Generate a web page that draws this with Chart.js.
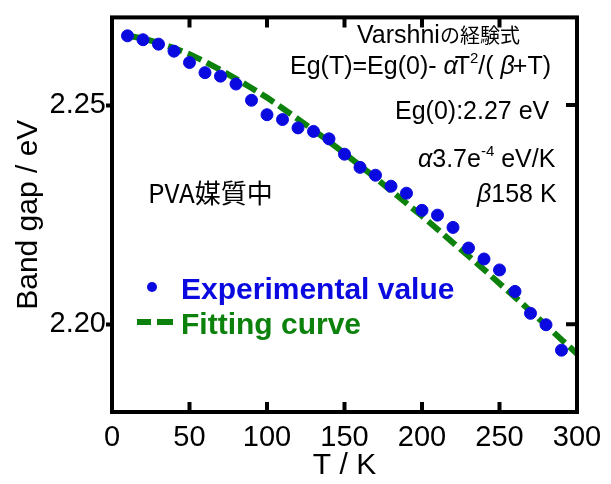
<!DOCTYPE html>
<html>
<head>
<meta charset="utf-8">
<script src="https://cdn.jsdelivr.net/npm/chart.js@4.4.1/dist/chart.umd.min.js"></script>
<style>
  body { margin: 0; background: #fff; }
  #wrap { width: 611px; height: 484px; }
</style>
</head>
<body>
<div id="wrap"><canvas id="chart"></canvas></div>
<script>
// measured points (K, eV)
var temps = [10, 20, 30, 40, 50, 60, 70, 80, 90, 100, 110, 120, 130, 140, 150, 160, 170, 180, 190, 200, 210, 220, 230, 240, 250, 260, 270, 280, 290];
var bandGap = [2.2658, 2.2649, 2.2639, 2.2623, 2.2597, 2.2574, 2.2566, 2.2548, 2.2511, 2.2478, 2.2467, 2.2448, 2.2440, 2.2423, 2.2388, 2.2358, 2.2340, 2.2315, 2.2299, 2.2260, 2.2249, 2.2221, 2.2174, 2.2149, 2.2124, 2.2075, 2.2025, 2.1999, 2.1941];
// fitting curve
var fitTemps = [10, 20, 30, 40, 50, 60, 70, 80, 90, 100, 110, 120, 130, 140, 150, 160, 170, 180, 190, 200, 210, 220, 230, 240, 250, 260, 270, 280, 290, 300];
var fitGap = [2.2658, 2.2652, 2.2642, 2.2630, 2.2616, 2.2599, 2.2580, 2.2560, 2.2539, 2.2517, 2.2493, 2.2468, 2.2443, 2.2417, 2.2390, 2.2362, 2.2334, 2.2305, 2.2276, 2.2247, 2.2217, 2.2186, 2.2156, 2.2125, 2.2093, 2.2062, 2.2030, 2.1998, 2.1965, 2.1933];
var yTicks = [2.20, 2.25];
var xTicks = [0, 50, 100, 150, 200, 250, 300];

var BLUE = '#0a0ae0';
var GREEN = '#0c820c';
var LATIN = "'Liberation Sans', Arial, sans-serif";
var CJK = "'Noto Sans CJK JP', sans-serif";

function pairs(xs, ys) {
	var out = [];
	for (var i = 0; i < xs.length; i++) out.push({ x: xs[i], y: ys[i] });
	return out;
}

// draw a run of text pieces one after another
function rich(ctx, x, y, parts) {
	ctx.textBaseline = 'alphabetic';
	ctx.textAlign = 'left';
	parts.forEach(function(p) {
		ctx.font = p.f;
		ctx.fillStyle = p.c || '#000';
		ctx.fillText(p.t, x + (p.dx || 0), y + (p.dy || 0));
		x += ctx.measureText(p.t).width + (p.dx || 0);
	});
}

var frame = {
	id: 'frame',
	afterDraw: function(chart) {
		var ctx = chart.ctx;
		var a = chart.chartArea;
		var xs = chart.scales.x, ys = chart.scales.y;
		ctx.save();
		ctx.strokeStyle = '#000';
		ctx.lineWidth = 4;
		ctx.strokeRect(a.left, a.top, a.right - a.left, a.bottom - a.top);
		// inward ticks: top, bottom, right
		ctx.beginPath();
		xTicks.slice(1, -1).forEach(function(v) {
			var px = xs.getPixelForValue(v);
			ctx.moveTo(px, a.bottom); ctx.lineTo(px, a.bottom - 10);
			ctx.moveTo(px, a.top); ctx.lineTo(px, a.top + 10);
		});
		yTicks.forEach(function(v) {
			var py = ys.getPixelForValue(v);
			ctx.moveTo(a.right, py); ctx.lineTo(a.right - 11, py);
		});
		ctx.stroke();

		// legend
		ctx.fillStyle = BLUE;
		ctx.beginPath();
		ctx.arc(152, 287, 5, 0, Math.PI * 2);
		ctx.fill();
		ctx.strokeStyle = GREEN;
		ctx.lineWidth = 6;
		ctx.beginPath();
		ctx.moveTo(137, 322); ctx.lineTo(151, 322);
		ctx.moveTo(157, 322); ctx.lineTo(173, 322);
		ctx.stroke();
		rich(ctx, 181, 299, [{ t: 'Experimental value', f: 'bold 30px ' + LATIN, c: BLUE }]);
		rich(ctx, 181, 334, [{ t: 'Fitting curve', f: 'bold 30px ' + LATIN, c: GREEN }]);

		// annotations
		var f = '25px ' + LATIN, fi = 'italic 25px ' + LATIN, fs = '15px ' + LATIN;
		rich(ctx, 357, 43, [{ t: 'Varshni', f: f }, { t: 'の経験式', f: '20px ' + CJK }]);
		rich(ctx, 290, 74, [
			{ t: 'Eg(T)=Eg(0)- ', f: f }, { t: 'α', f: fi }, { t: 'T', f: f, dx: -3 },
			{ t: '2', f: fs, dy: -11 }, { t: '/( ', f: f }, { t: 'β', f: fi }, { t: '+T)', f: f, dx: -2 }
		]);
		rich(ctx, 395, 119, [{ t: 'Eg(0):2.27 eV', f: f }]);
		rich(ctx, 418, 167, [{ t: 'α', f: fi }, { t: '3.7e', f: f }, { t: '-4', f: fs, dy: -11 }, { t: ' eV/K', f: f }]);
		rich(ctx, 477, 202, [{ t: 'β', f: fi }, { t: '158 K', f: f }]);
		rich(ctx, 148, 203, [{ t: 'PVA媒質中', f: '26px ' + CJK }]);
		ctx.restore();
	}
};

var ctx = document.getElementById('chart');
var chart = new Chart(ctx, {
	type: 'scatter',
	data: {
		datasets: [{
			label: 'Fitting curve',
			type: 'line',
			data: pairs(fitTemps, fitGap),
			borderColor: GREEN,
			borderWidth: 6,
			borderDash: [15, 6],
			pointRadius: 0,
			fill: false,
			order: 2
		}, {
			label: 'Experimental value',
			data: pairs(temps, bandGap),
			backgroundColor: BLUE,
			borderColor: BLUE,
			pointRadius: 6,
			pointHoverRadius: 6,
			order: 1
		}]
	},
	options: {
		responsive: true,
		maintainAspectRatio: false,
		animation: false,
		events: [],
		layout: { padding: { top: 12, right: 34, left: 0, bottom: 0 } },
		plugins: { legend: { display: false }, tooltip: { enabled: false } },
		scales: {
			x: {
				type: 'linear',
				min: 0, max: 300,
				afterBuildTicks: function(s) { s.ticks = xTicks.map(function(v) { return { value: v }; }); },
				afterFit: function(s) { s.height = 72; },
				grid: { display: true, drawOnChartArea: false, drawTicks: false },
				border: { display: false },
				ticks: { color: '#000', font: { family: LATIN, size: 29 }, padding: 9, maxRotation: 0 },
				title: { display: true, text: 'T / K', color: '#000', font: { family: LATIN, size: 30 }, padding: { bottom: 0, top: 0 } }
			},
			y: {
				min: 2.18, max: 2.27,
				afterBuildTicks: function(s) { s.ticks = yTicks.map(function(v) { return { value: v }; }); },
				afterFit: function(s) { s.width = 112; },
				grid: { drawOnChartArea: false, drawTicks: true, tickLength: 6, tickWidth: 4, tickColor: '#000' },
				border: { display: false },
				ticks: {
					color: '#000', font: { family: LATIN, size: 29 }, padding: 0,
					callback: function(v) { return Number(v).toFixed(2); }
				},
				title: { display: true, text: 'Band gap / eV', color: '#000', font: { family: LATIN, size: 30 }, padding: { top: 11, bottom: 0 } }
			}
		}
	},
	plugins: [frame]
});
</script>
</body>
</html>
